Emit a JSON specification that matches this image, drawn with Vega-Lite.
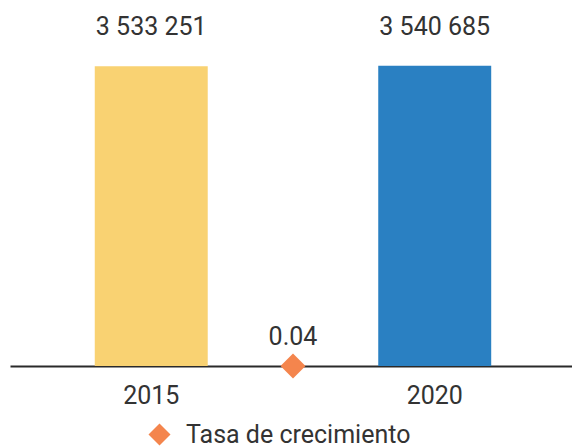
{
  "$schema": "https://vega.github.io/schema/vega-lite/v6.json",
  "autosize": "none",
  "padding": {"left": 10, "top": 0, "right": 0, "bottom": 81},
  "width": 562,
  "height": 366,
  "config": {
    "view": {"stroke": null},
    "font": "Roboto",
    "text": {"font": "Roboto"},
    "locale": {"number": {"decimal": ".", "thousands": " ", "grouping": [3], "currency": ["", ""]}}
  },
  "datasets": {
    "pop": [
      {"anio": "2015", "poblacion": 3533251},
      {"anio": "2020", "poblacion": 3540685}
    ],
    "rate": [
      {"anio": "tasa", "tasa": 0.04, "serie": "Tasa de crecimiento"}
    ]
  },
  "encoding": {
    "x": {
      "field": "anio",
      "type": "nominal",
      "sort": null,
      "scale": {"domain": ["2015", "tasa", "2020"], "paddingInner": 0.203, "paddingOuter": 0.584, "align": 0.512},
      "axis": {
        "title": null,
        "labelAngle": 0,
        "ticks": false,
        "labelFontSize": 25,
        "labelColor": "#333333",
        "labelFont": "Roboto",
        "labelPadding": 17,
        "domainColor": "#2a2a2a",
        "domainWidth": 2,
        "labelExpr": "datum.label == 'tasa' ? '' : datum.label"
      }
    }
  },
  "layer": [
    {
      "data": {"name": "pop"},
      "mark": {"type": "bar"},
      "encoding": {
        "y": {"field": "poblacion", "type": "quantitative", "scale": {"domain": [0, 4315000], "nice": false}, "axis": null},
        "color": {"field": "anio", "type": "nominal", "scale": {"domain": ["2015", "2020"], "range": ["#F9D272", "#2A80C2"]}, "legend": null}
      }
    },
    {
      "data": {"name": "pop"},
      "mark": {"type": "text", "baseline": "alphabetic", "dy": -31, "fontSize": 25, "color": "#333333"},
      "encoding": {
        "y": {"field": "poblacion", "type": "quantitative"},
        "text": {"field": "poblacion", "type": "quantitative", "format": ",d", "formatType": "number"}
      }
    },
    {
      "data": {"name": "rate"},
      "mark": {"type": "point", "shape": "diamond", "filled": true, "size": 625, "opacity": 1},
      "encoding": {
        "y": {"datum": 0, "type": "quantitative"},
        "color": {
          "field": "serie",
          "type": "nominal",
          "scale": {"range": ["#F4854D"]},
          "legend": {
            "title": null,
            "orient": "none",
            "legendX": 137,
            "legendY": 422,
            "direction": "horizontal",
            "symbolType": "diamond",
            "symbolSize": 484,
            "labelFontSize": 25,
            "labelLimit": 400,
            "labelOffset": 14,
            "labelColor": "#333333",
            "labelFont": "Roboto",
            "symbolOpacity": 1
          }
        }
      }
    },
    {
      "data": {"name": "rate"},
      "mark": {"type": "text", "baseline": "alphabetic", "dy": -21, "fontSize": 25, "color": "#333333"},
      "encoding": {
        "y": {"datum": 0, "type": "quantitative"},
        "text": {"field": "tasa", "type": "quantitative", "format": ".2f"}
      }
    }
  ],
  "resolve": {"scale": {"color": "independent"}}
}
